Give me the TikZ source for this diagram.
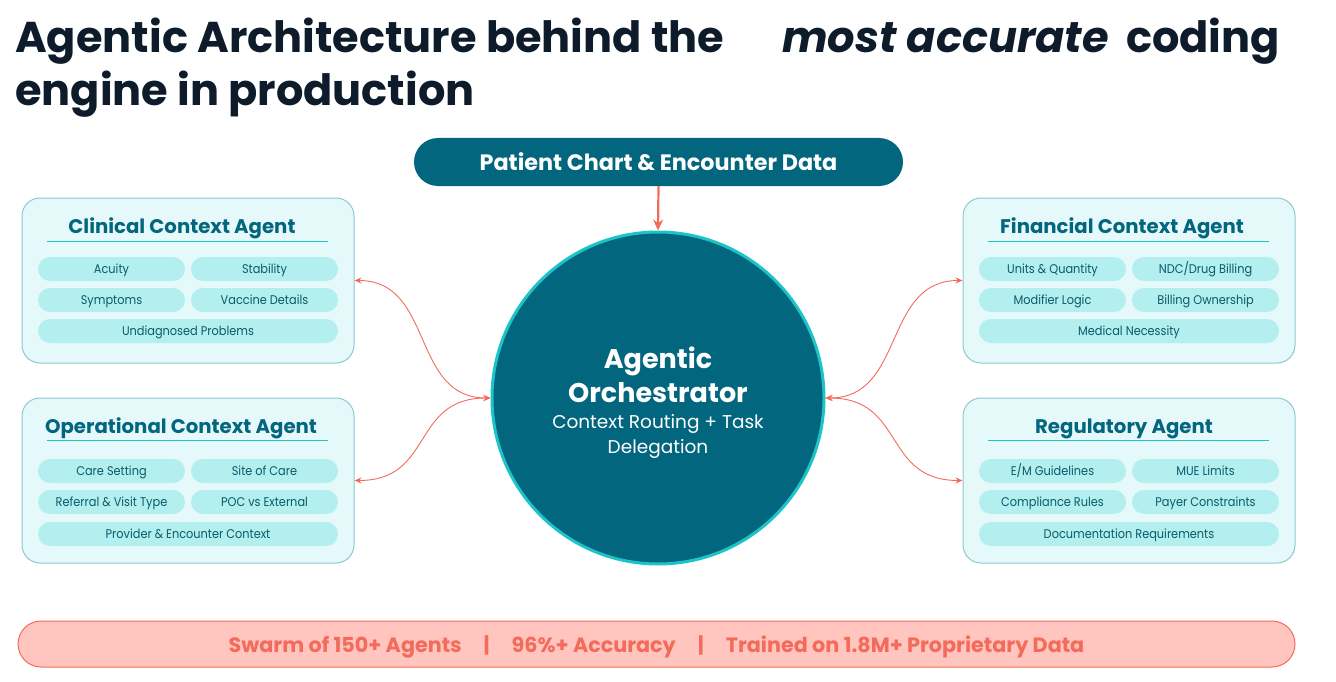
\documentclass[tikz,border=0pt]{standalone}
\usepackage{fontspec}
\setmainfont{Poppins}
\newfontfamily\chipfont{Poppins}[FakeStretch=0.9]
\usetikzlibrary{arrows.meta}
\definecolor{ink}{HTML}{0D1B2A}
\definecolor{deep}{HTML}{03667F}
\definecolor{aqua}{HTML}{1CC4C8}
\definecolor{panel}{HTML}{E6F9FA}
\definecolor{panelline}{HTML}{8CC9D2}
\definecolor{chip}{HTML}{B2EFEE}
\definecolor{chiptext}{HTML}{0B5A6B}
\definecolor{coral}{HTML}{F26B5B}
\definecolor{blush}{HTML}{FFC5BE}
\tikzset{
  agentbox/.style={draw=panelline,fill=panel,line width=1pt,rounded corners=18pt,
    minimum width=332pt,minimum height=165pt,inner sep=0pt},
  agenthead/.style={anchor=base,text=deep,font=\fontsize{19.7}{22}\selectfont\bfseries,inner sep=0pt},
  chip/.style={fill=chip,rounded corners=12pt,minimum height=24pt,inner sep=0pt,
    text height=10pt,text depth=1pt,text=chiptext,font=\chipfont\fontsize{12.6}{14}\selectfont},
  half/.style={chip,minimum width=147pt},
  full/.style={chip,minimum width=300pt},
  link/.style={draw=coral,line width=0.9pt,{Stealth[length=7pt,width=6pt]}-{Stealth[length=7pt,width=6pt]}},
}

\begin{document}
\begin{tikzpicture}[x=1pt,y=-1pt]
  \useasboundingbox (0,0) rectangle (1336,682);
  % title
  \node[anchor=base west,inner sep=0pt,text=ink,font=\fontsize{43.1}{50}\selectfont\bfseries] (title1) at (15,53)
    {Agentic Architecture behind the\hspace{58pt}\textit{most accurate}\hspace{17pt}coding};
  \node[anchor=base west,inner sep=0pt,text=ink,font=\fontsize{43.1}{50}\selectfont\bfseries] (title2) at (15,106)
    {engine in production};

  % input and orchestrator
  \node[fill=deep,rounded corners=24pt,minimum width=489pt,minimum height=48pt,inner sep=0pt,
    text=white,font=\fontsize{22.3}{26}\selectfont\bfseries] (chart) at (658.5,162)
    {Patient Chart \& Encounter Data};
  \node[circle,fill=deep,draw=aqua,line width=3pt,minimum size=332pt,inner sep=0pt] (orch) at (658,398) {};
  \node[text=white,font=\fontsize{27}{34}\selectfont\bfseries,align=center,inner sep=0pt] (orchname) at (658,375)
    {Agentic\\Orchestrator};
  \node[text=white,font=\fontsize{18.5}{25}\selectfont,align=center,inner sep=0pt] (orchsub) at (658,436)
    {Context Routing + Task\\Delegation};
  \draw[coral,line width=2.2pt,-{Stealth[length=11pt,width=10pt]}] (chart.south) -- (orch.north);

  % agent panels
  \node[agentbox] (clin) at (188,280.5) {};
  \node[agentbox] (oper) at (188,480.5) {};
  \node[agentbox] (fin) at (1129,280.5) {};
  \node[agentbox] (reg) at (1129,480.5) {};

  \node[agenthead] (clinhead) at (182,233) {Clinical Context Agent};
  \node[agenthead] (operhead) at (181,433) {Operational Context Agent};
  \node[agenthead] (finhead) at (1122,233) {Financial Context Agent};
  \node[agenthead] (reghead) at (1124,433) {Regulatory Agent};
  \foreach \px/\py in {188/241,188/440,1129/241,1129/440}
    \draw[aqua,line width=1pt] (\px-141,\py) -- (\px+140,\py);

  % clinical
  \node[half] (acuity) at (111.5,269) {Acuity};
  \node[half] (stab) at (264.5,269) {Stability};
  \node[half] (symp) at (111.5,300) {Symptoms};
  \node[half] (vacc) at (264.5,300) {Vaccine Details};
  \node[full] (undiag) at (188,331) {Undiagnosed Problems};
  % operational
  \node[half] (setting) at (111.5,471) {Care Setting};
  \node[half] (site) at (264.5,471) {Site of Care};
  \node[half] (referral) at (111.5,502) {Referral \& Visit Type};
  \node[half] (poc) at (264.5,502) {POC vs External};
  \node[full] (provider) at (188,534) {Provider \& Encounter Context};
  % financial
  \node[half] (units) at (1052.5,269) {Units \& Quantity};
  \node[half] (ndc) at (1205.5,269) {NDC/Drug Billing};
  \node[half] (modif) at (1052.5,300) {Modifier Logic};
  \node[half] (owner) at (1205.5,300) {Billing Ownership};
  \node[full] (necess) at (1129,331) {Medical Necessity};
  % regulatory
  \node[half] (em) at (1052.5,471) {E/M Guidelines};
  \node[half] (mue) at (1205.5,471) {MUE Limits};
  \node[half] (compl) at (1052.5,502) {Compliance Rules};
  \node[half] (payer) at (1205.5,502) {Payer Constraints};
  \node[full] (docs) at (1129,534) {Documentation Requirements};

  % links
  \draw[link] (orch.west) .. controls +(-80,0) and +(80,0) .. (clin.east);
  \draw[link] (orch.west) .. controls +(-80,0) and +(80,0) .. (oper.east);
  \draw[link] (orch.east) .. controls +(80,0) and +(-80,0) .. (fin.west);
  \draw[link] (orch.east) .. controls +(80,0) and +(-80,0) .. (reg.west);

  % banner
  \node[fill=blush,draw=coral,line width=1pt,rounded corners=23pt,minimum width=1277pt,minimum height=46pt,
    inner sep=0pt,text height=16pt,text depth=0pt,text=coral,font=\fontsize{20.7}{24}\selectfont\bfseries] (banner) at (656.5,644)
    {Swarm of 150+ Agents\hspace{22pt}|\hspace{22pt}96\%+ Accuracy\hspace{22pt}|\hspace{22pt}Trained on 1.8M+ Proprietary Data};
\end{tikzpicture}
\end{document}
